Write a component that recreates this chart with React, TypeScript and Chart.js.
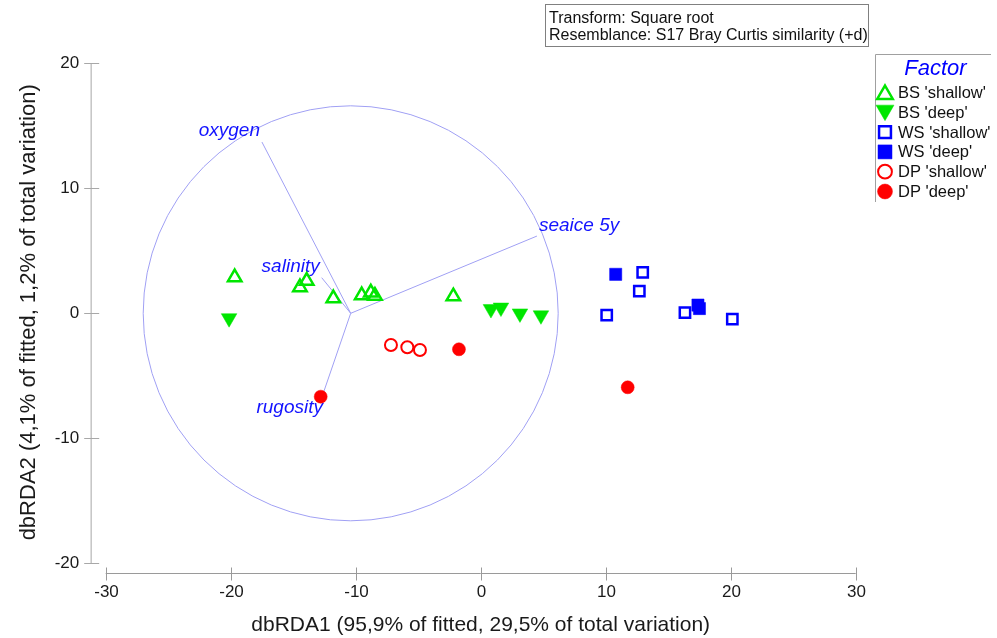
import React, { useEffect, useRef } from "react";
import { Chart, registerables } from "chart.js";

Chart.register(...registerables);

// ---- data (dbRDA scores) ----
const bsShallow = [
  [-19.68, 2.88], [-14.46, 2.08], [-13.92, 2.6], [-11.79, 1.2],
  [-9.52, 1.44], [-8.79, 1.66], [-8.46, 1.4], [-2.19, 1.35],
];
const bsDeep = [[-20.13, -0.39], [0.82, 0.34], [1.62, 0.46], [3.14, -0.01], [4.82, -0.16]];
const wsShallow = [[12.96, 3.28], [12.69, 1.78], [10.08, -0.14], [16.34, 0.05], [20.13, -0.46]];
const wsDeep = [[10.8, 3.12], [17.38, 0.66], [17.5, 0.38]];
const dpShallow = [[-7.18, -2.54], [-5.87, -2.72], [-4.86, -2.94]];
const dpDeep = [[-12.8, -6.67], [-1.74, -2.88], [11.76, -5.92]];

const seriesNames = ["BS 'shallow'", "BS 'deep'", "WS 'shallow'", "WS 'deep'", "DP 'shallow'", "DP 'deep'"];

const vectorNames = ["oxygen", "salinity", "rugosity", "seaice 5y"];
const vectorEnds = [[-17.5, 13.7], [-12.72, 2.85], [-12.7, -6.7], [4.5, 6.18]];
const vectorOrigin = [-10.4, 0.0];
const circleRadius = 16.6;

const xTickValues = [-30, -20, -10, 0, 10, 20, 30];
const yTickValues = [-20, -10, 0, 10, 20];

const xTitle = "dbRDA1 (95,9% of fitted, 29,5% of total variation)";
const yTitle = "dbRDA2 (4,1% of fitted, 1,2% of total variation)";
const infoLines = ["Transform: Square root", "Resemblance: S17 Bray Curtis similarity (+d)"];
const legendTitle = "Factor";

const FONT = "'Liberation Sans', Arial, sans-serif";
const GREEN = "#00e600";
const BLUE = "#0000ff";
const RED = "#ff0000";
const VEC = "#a0a0f4";
const LABEL_BLUE = "#1414ff";

const toPts = (a: number[][]) => a.map(([x, y]) => ({ x, y }));

function drawMarker(ctx: CanvasRenderingContext2D, style: string, x: number, y: number, r: number, rot: number, fill: string | null, stroke: string | null, lw: number) {
  ctx.save();
  ctx.beginPath();
  if (style === "triangle") {
    let rad = (rot * Math.PI) / 180;
    ctx.moveTo(x + Math.sin(rad) * r, y - Math.cos(rad) * r);
    rad += (2 * Math.PI) / 3;
    ctx.lineTo(x + Math.sin(rad) * r, y - Math.cos(rad) * r);
    rad += (2 * Math.PI) / 3;
    ctx.lineTo(x + Math.sin(rad) * r, y - Math.cos(rad) * r);
    ctx.closePath();
  } else if (style === "rect") {
    const s = Math.SQRT1_2 * r;
    ctx.rect(x - s, y - s, 2 * s, 2 * s);
  } else {
    ctx.arc(x, y, r, 0, Math.PI * 2);
  }
  if (fill) { ctx.fillStyle = fill; ctx.fill(); }
  if (stroke && lw > 0) { ctx.strokeStyle = stroke; ctx.lineWidth = lw; ctx.stroke(); }
  ctx.restore();
}

const decorPlugin = {
  id: "decor",
  beforeDatasetsDraw(chart: any) {
    const ctx: CanvasRenderingContext2D = chart.ctx;
    const xs = chart.scales.x;
    const ys = chart.scales.y;
    const cx = xs.getPixelForValue(vectorOrigin[0]);
    const cy = ys.getPixelForValue(vectorOrigin[1]);
    const rr = Math.abs(xs.getPixelForValue(vectorOrigin[0] + circleRadius) - cx);
    ctx.save();
    ctx.strokeStyle = VEC;
    ctx.lineWidth = 1;
    ctx.beginPath();
    ctx.arc(cx, cy, rr, 0, Math.PI * 2);
    ctx.stroke();
    vectorEnds.forEach(([vx, vy], i) => {
      const ex = xs.getPixelForValue(vx);
      const ey = ys.getPixelForValue(vy);
      ctx.beginPath();
      ctx.moveTo(cx, cy);
      ctx.lineTo(ex, ey);
      ctx.stroke();
      ctx.fillStyle = LABEL_BLUE;
      ctx.font = `italic 19px ${FONT}`;
      ctx.textBaseline = "alphabetic";
      const name = vectorNames[i];
      if (ex > cx) {
        ctx.textAlign = "left";
        ctx.fillText(name, ex + 2, ey - 5);
      } else if (ey > cy) {
        ctx.textAlign = "right";
        ctx.fillText(name, ex + 1, ey + 16);
      } else {
        ctx.textAlign = "right";
        ctx.fillText(name, ex - 2, ey - 6);
      }
    });
    ctx.restore();
  },
  afterDraw(chart: any) {
    const ctx: CanvasRenderingContext2D = chart.ctx;
    const xs = chart.scales.x;
    const ys = chart.scales.y;
    const area = chart.chartArea;
    ctx.save();
    // y axis
    const yAxisX = area.left - 14.5;
    ctx.strokeStyle = "#c4c4c4";
    ctx.lineWidth = 1.5;
    ctx.beginPath();
    ctx.moveTo(yAxisX, ys.getPixelForValue(yTickValues[yTickValues.length - 1]));
    ctx.lineTo(yAxisX, ys.getPixelForValue(yTickValues[0]));
    ctx.stroke();
    ctx.strokeStyle = "#a8a8a8";
    ctx.lineWidth = 1;
    ctx.font = `17px ${FONT}`;
    ctx.fillStyle = "#1a1a1a";
    ctx.textAlign = "right";
    ctx.textBaseline = "middle";
    yTickValues.forEach((v) => {
      const py = Math.round(ys.getPixelForValue(v)) + 0.5;
      ctx.beginPath();
      ctx.moveTo(yAxisX - 7, py);
      ctx.lineTo(yAxisX + 8, py);
      ctx.stroke();
      ctx.fillText(String(v), yAxisX - 12, py);
    });
    // x axis
    const xAxisY = Math.round(area.bottom + 10) + 0.5;
    ctx.strokeStyle = "#9a9a9a";
    ctx.beginPath();
    ctx.moveTo(xs.getPixelForValue(xTickValues[0]), xAxisY);
    ctx.lineTo(xs.getPixelForValue(xTickValues[xTickValues.length - 1]), xAxisY);
    ctx.stroke();
    ctx.textAlign = "center";
    xTickValues.forEach((v) => {
      const px = Math.round(xs.getPixelForValue(v)) + 0.5;
      ctx.beginPath();
      ctx.moveTo(px, xAxisY - 6);
      ctx.lineTo(px, xAxisY + 7);
      ctx.stroke();
      ctx.fillText(String(v), px, xAxisY + 19);
    });
    // titles
    ctx.font = `21px ${FONT}`;
    ctx.fillStyle = "#1a1a1a";
    ctx.textAlign = "center";
    ctx.textBaseline = "middle";
    ctx.fillText(xTitle, xs.getPixelForValue(0), 625);
    ctx.save();
    ctx.font = `22px ${FONT}`;
    ctx.translate(29, ys.getPixelForValue(0) - 1);
    ctx.rotate(-Math.PI / 2);
    ctx.fillText(yTitle, 0, 0);
    ctx.restore();
    // info box
    ctx.strokeStyle = "#808080";
    ctx.lineWidth = 1;
    ctx.strokeRect(545.5, 4.5, 323, 42);
    ctx.font = `16px ${FONT}`;
    ctx.textAlign = "left";
    ctx.textBaseline = "alphabetic";
    ctx.fillStyle = "#111";
    ctx.fillText(infoLines[0], 549, 23);
    ctx.fillText(infoLines[1], 549, 39.5);
    // legend
    ctx.strokeStyle = "#a0a0a0";
    ctx.beginPath();
    ctx.moveTo(875.5, 202);
    ctx.lineTo(875.5, 54.5);
    ctx.lineTo(991, 54.5);
    ctx.stroke();
    ctx.font = `italic 22px ${FONT}`;
    ctx.fillStyle = BLUE;
    ctx.textAlign = "center";
    ctx.fillText(legendTitle, 935.5, 75);
    ctx.font = `16.5px ${FONT}`;
    ctx.textAlign = "left";
    ctx.textBaseline = "middle";
    chart.data.datasets.forEach((ds: any, i: number) => {
      const ly = 92.5 + i * 19.8;
      const lx = 885;
      const rot = ds.pointRotation || 0;
      const yOff = ds.pointStyle === "triangle" ? (rot ? -2 : 2) : 0;
      const transparent = ds.backgroundColor === "rgba(0,0,0,0)";
      drawMarker(ctx, ds.pointStyle, lx, ly + yOff, ds.pointRadius * 1.15, rot,
        transparent ? null : ds.backgroundColor, ds.borderColor, ds.borderWidth);
      ctx.fillStyle = "#111";
      ctx.fillText(ds.label, 898, ly + 1);
    });
    ctx.restore();
  },
};

export default function App() {
  const ref = useRef<HTMLCanvasElement | null>(null);
  useEffect(() => {
    if (!ref.current) return;
    const chart = new Chart(ref.current, {
      type: "scatter",
      data: {
        datasets: [
          { label: seriesNames[0], data: toPts(bsShallow), pointStyle: "triangle", pointRadius: 7.8, pointRotation: 0, backgroundColor: "rgba(0,0,0,0)", borderColor: GREEN, borderWidth: 2.5 },
          { label: seriesNames[1], data: toPts(bsDeep), pointStyle: "triangle", pointRadius: 9, pointRotation: 180, backgroundColor: GREEN, borderColor: GREEN, borderWidth: 0.5 },
          { label: seriesNames[2], data: toPts(wsShallow), pointStyle: "rect", pointRadius: 7.3, pointRotation: 0, backgroundColor: "rgba(0,0,0,0)", borderColor: BLUE, borderWidth: 2.5 },
          { label: seriesNames[3], data: toPts(wsDeep), pointStyle: "rect", pointRadius: 8.6, pointRotation: 0, backgroundColor: BLUE, borderColor: BLUE, borderWidth: 0.5 },
          { label: seriesNames[4], data: toPts(dpShallow), pointStyle: "circle", pointRadius: 6, pointRotation: 0, backgroundColor: "rgba(0,0,0,0)", borderColor: RED, borderWidth: 2 },
          { label: seriesNames[5], data: toPts(dpDeep), pointStyle: "circle", pointRadius: 6.5, pointRotation: 0, backgroundColor: RED, borderColor: RED, borderWidth: 0.5 },
        ] as any,
      },
      options: {
        animation: false,
        responsive: false,
        maintainAspectRatio: false,
        events: [],
        layout: { padding: { left: 105.7, right: 997 - 855.7, top: 63.3, bottom: 638 - 563.3 } },
        scales: {
          x: { type: "linear", min: -30, max: 30, display: false, ticks: { stepSize: 10 } },
          y: { type: "linear", min: -20, max: 20, display: false, ticks: { stepSize: 10 } },
        },
        plugins: { legend: { display: false }, tooltip: { enabled: false } },
        elements: { point: { hoverRadius: 0 } },
      } as any,
      plugins: [decorPlugin],
    });
    return () => chart.destroy();
  }, []);
  return (
    <div style={{ position: "absolute", left: 0, top: 0, width: 997, height: 638, background: "#fff" }}>
      <canvas ref={ref} width={997} height={638} style={{ width: 997, height: 638, display: "block" }} />
    </div>
  );
}
